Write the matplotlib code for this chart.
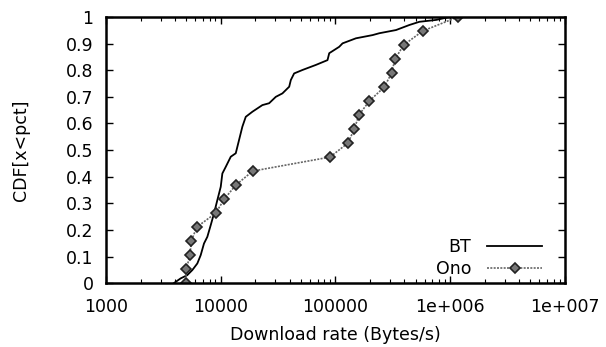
import matplotlib
matplotlib.use("Agg")
import matplotlib.pyplot as plt
import numpy as np
from matplotlib.ticker import FixedLocator, LogLocator, NullFormatter

plt.rcParams['font.family'] = ['DejaVu Sans']

# BT: measured CDF of download rate
bt_rate = [3900, 4477, 5105, 5649, 6250, 6685, 7145, 7640, 8180, 8735, 9340,
           10000, 10330, 11060, 12230, 13520, 15440, 16530, 18870, 23070,
           26420, 30200, 34510, 39530, 40830, 43650, 51640, 67600, 85310,
           88310, 107900, 115400, 151000, 210700, 241300, 337600, 441400,
           539700, 755100, 986000]
bt_cdf = [0.0, 0.018, 0.030, 0.049, 0.074, 0.105, 0.149, 0.174, 0.218, 0.262,
          0.312, 0.362, 0.412, 0.437, 0.475, 0.488, 0.588, 0.625, 0.644,
          0.669, 0.676, 0.700, 0.713, 0.738, 0.763, 0.788, 0.801, 0.820,
          0.838, 0.864, 0.888, 0.901, 0.920, 0.932, 0.939, 0.951, 0.970,
          0.982, 0.989, 1.0]

# Ono: 20 samples
ono_rate = [4940, 5010, 5390, 5540, 6170, 9040, 10740, 13520, 19010, 89600,
            128500, 146000, 160300, 197300, 266700, 309000, 331000, 393600,
            576800, 1165000]
ono_cdf = [i / 19 for i in range(20)]

x_ticks = [1e3, 1e4, 1e5, 1e6, 1e7]
x_labels = ['1000', '10000', '100000', '1e+006', '1e+007']
y_ticks = [0, 0.1, 0.2, 0.3, 0.4, 0.5, 0.6, 0.7, 0.8, 0.9, 1]
y_labels = ['0', '0.1', '0.2', '0.3', '0.4', '0.5', '0.6', '0.7', '0.8', '0.9', '1']

fig = plt.figure(figsize=(6.06, 3.47), dpi=100)
ax = fig.add_axes([0.175, 0.184, 0.757, 0.767])

ax.plot(bt_rate, bt_cdf, color='black', lw=1.3, label='BT')
ax.plot(ono_rate, ono_cdf, color='#666666', lw=1.2, ls=(0, (1.2, 0.8)),
        marker='D', markersize=5.5, markerfacecolor='#777777',
        markeredgecolor='#222222', markeredgewidth=1.2, label='Ono')

ax.set_xscale('log')
ax.set_xlim(1e3, 1e7)
ax.set_ylim(0, 1)
ax.xaxis.set_major_locator(FixedLocator(x_ticks))
ax.set_xticklabels(x_labels)
ax.xaxis.set_minor_locator(LogLocator(base=10, subs=np.arange(2, 10)))
ax.xaxis.set_minor_formatter(NullFormatter())
ax.set_yticks(y_ticks)
ax.set_yticklabels(y_labels)

ax.tick_params(which='both', direction='in', top=True, right=True,
               labelsize=12.5, colors='black')
ax.tick_params(which='major', length=5, width=1)
ax.tick_params(which='minor', length=3, width=0.8)
ax.tick_params(axis='x', pad=11)
ax.tick_params(axis='y', pad=9)
for s in ax.spines.values():
    s.set_linewidth(1.8)

ax.set_xlabel('Download rate (Bytes/s)', fontsize=12.5, labelpad=7)
ax.set_ylabel('CDF[x<pct]', fontsize=12.5, labelpad=26)

ax.legend(loc='lower right', frameon=False, markerfirst=False, fontsize=12.5,
          handlelength=3.2, handletextpad=0.9, borderaxespad=0.1,
          labelspacing=0.25, bbox_to_anchor=(0.97, -0.015))

fig.savefig('out.png', dpi=100)
